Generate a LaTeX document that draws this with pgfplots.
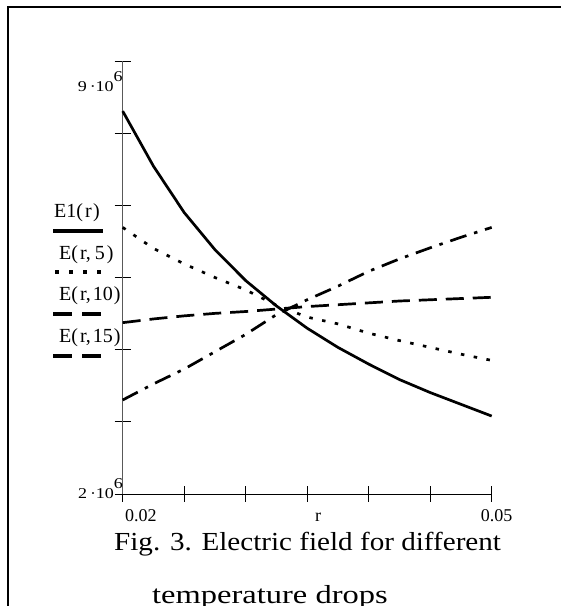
\documentclass[border=0pt]{standalone}
\usepackage{pgfplots}
\pgfplotsset{compat=1.18}
\usepackage{pgfplotstable}
\usepackage{graphicx}
\usepackage{fontspec}
\setmainfont{Liberation Serif}

\pgfplotstableread{
r      E1    E5    E10   E15
0.0200 8.19  6.31  4.77  3.52
0.0225 7.30  5.97  4.83  3.78
0.0250 6.55  5.72  4.88  4.02
0.0275 5.95  5.50  4.92  4.30
0.0300 5.45  5.30  4.95  4.58
0.0325 5.04  5.05  4.99  4.90
0.0350 4.68  4.86  5.03  5.14
0.0375 4.37  4.75  5.06  5.36
0.0400 4.10  4.60  5.09  5.60
0.0425 3.85  4.48  5.12  5.80
0.0450 3.64  4.37  5.14  5.98
0.0475 3.45  4.26  5.16  6.15
0.0500 3.26  4.16  5.18  6.31
}\datatable

\begin{document}
\begin{tikzpicture}[x=1pt,y=1pt]
% frame
\draw[line width=1.8pt] (8,-20) -- (8,599) -- (600,599);

\begin{axis}[
  at={(122.7pt,112pt)}, anchor=south west,
  scale only axis, width=369pt, height=433pt,
  xmin=0.02, xmax=0.05, ymin=2, ymax=9,
  axis lines=left, axis line style={-},
  x axis line style={black, line width=0.8pt},
  y axis line style={black!65, line width=0.8pt},
  xtick={0.02,0.025,0.03,0.035,0.04,0.045,0.05},
  ytick={2,3.166667,4.333333,5.5,6.666667,7.833333,9},
  xticklabels={}, yticklabels={},
  scaled ticks=false,
  tick align=center, major tick length=16pt,
  tick style={black, line width=0.8pt},
  clip=false,
]
\addplot[black, line width=2.7pt, line join=round] table[x=r, y=E1] {\datatable};
\addplot[black, line width=2.7pt, dash pattern=on 3.5pt off 9.5pt] table[x=r, y=E5] {\datatable};
\addplot[black, line width=2.7pt, dash pattern=on 18pt off 9pt] table[x=r, y=E10] {\datatable};
\addplot[black, line width=2.7pt, dash pattern=on 17pt off 8pt on 3.5pt off 8pt] table[x=r, y=E15] {\datatable};
\end{axis}

% y tick labels
\node[anchor=base east, inner sep=0pt, font=\fontsize{15}{15}\selectfont] at (122.7,514)
  {\scalebox{1.2}[1]{9\hspace{2.5pt}·\hspace{-0.3pt}10}\raisebox{10pt}{\scalebox{1.2}[1]{6}}};
\node[anchor=base east, inner sep=0pt, font=\fontsize{15}{15}\selectfont] at (123,107)
  {\scalebox{1.2}[1]{2\hspace{2.5pt}·\hspace{-0.3pt}10}\raisebox{10pt}{\scalebox{1.2}[1]{6}}};

% x tick labels
\node[anchor=base west, inner sep=0pt, font=\fontsize{18}{18}\selectfont] at (125,84) {0.02};
\node[anchor=base, inner sep=0pt, font=\fontsize{18}{18}\selectfont] at (318,84) {r};
\node[anchor=base, inner sep=0pt, font=\fontsize{18}{18}\selectfont] at (496.5,84) {0.05};

% legend
\node[anchor=base west, inner sep=0pt, font=\fontsize{20}{20}\selectfont] at (54,388) {E1(\hspace{2pt}r\hspace{1.5pt})};
\node[anchor=base west, inner sep=0pt, font=\fontsize{20}{20}\selectfont] at (59,346.5) {E(\hspace{2pt}r,\hspace{4pt}5\hspace{2pt})};
\node[anchor=base west, inner sep=0pt, font=\fontsize{20}{20}\selectfont] at (59,305) {E(\hspace{2pt}r,\hspace{2pt}10\hspace{1pt})};
\node[anchor=base west, inner sep=0pt, font=\fontsize{20}{20}\selectfont] at (59,263) {E(\hspace{2pt}r,\hspace{2pt}15\hspace{1pt})};
\draw[line width=3.3pt] (53,375) -- (103,375);
\draw[line width=3.3pt, dash pattern=on 4pt off 10pt] (55,334) -- (103,334);
\draw[line width=3.3pt, dash pattern=on 19pt off 10pt] (53,292) -- (103,292);
\draw[line width=3.3pt, dash pattern=on 19pt off 10pt] (53,250) -- (103,250);

% caption
\node[anchor=base west, inner sep=0pt, font=\fontsize{26}{26}\selectfont] at (114,55)
  {\scalebox{1.12}[1]{Fig. 3. Electric field for different}};
\node[anchor=base west, inner sep=0pt, font=\fontsize{26}{26}\selectfont] at (152,2)
  {\scalebox{1.25}[1]{temperature drops}};

\pgfresetboundingbox
\path[use as bounding box] (0,0) rectangle (561,606);
\end{tikzpicture}
\end{document}
